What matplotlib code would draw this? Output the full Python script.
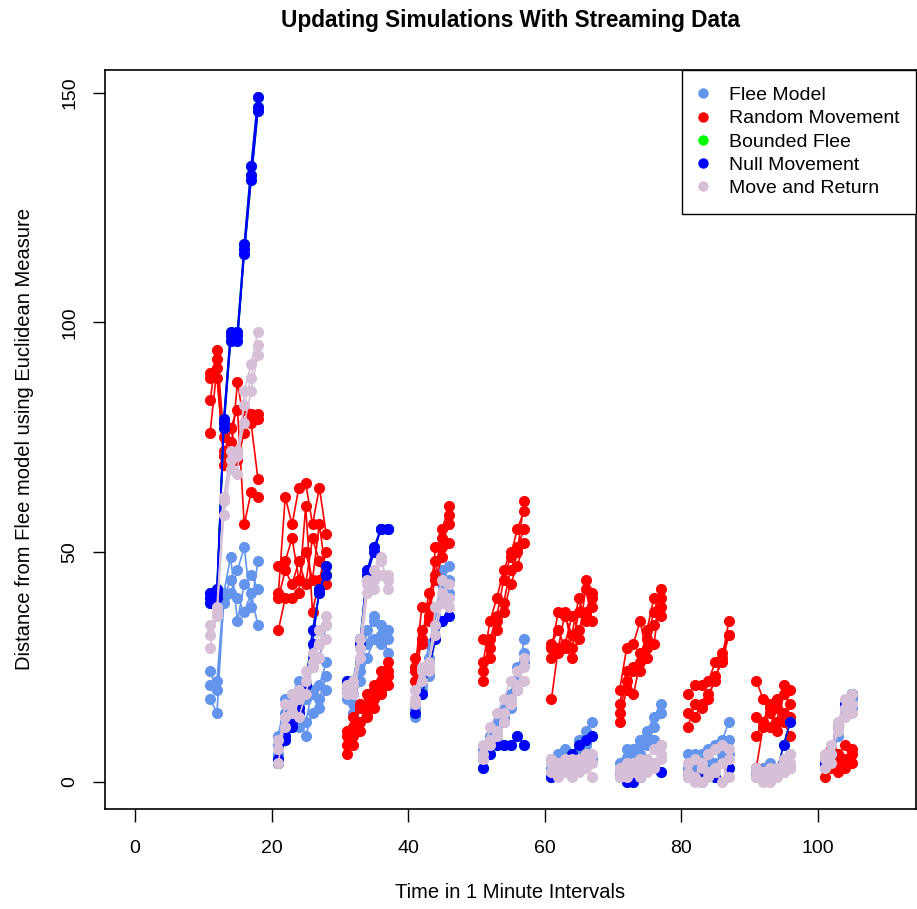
import numpy as np
import matplotlib
matplotlib.use("Agg")
import matplotlib.pyplot as plt
from matplotlib.lines import Line2D

plt.rcParams["font.family"] = ["Liberation Sans", "DejaVu Sans"]

############################################################
# Data: one entry per streaming window, each window holds runs
############################################################

window_start = [11, 21, 31, 41, 51, 61, 71, 81, 91, 101]

flee_model = [
    [[18, 15, 40, 44, 40, 37, 41, 34], [21, 22, 41, 49, 35, 43, 45, 42], [24, 20, 39, 41, 46, 51, 38, 48]],
    [[5, 11, 12, 14, 10, 15, 16, 20], [8, 15, 13, 17, 18, 19, 21, 26], [10, 18, 19, 22, 20, 25, 27, 34], [6, 12, 16, 12, 13, 20, 18, 23]],
    [[18, 17, 24, 33, 35, 34, 28], [20, 15, 26, 30, 36, 32, 31], [22, 19, 22, 27, 31, 30, 33]],
    [[14, 21, 23, 36, 46, 44], [16, 22, 27, 38, 40, 41], [17, 20, 30, 34, 43, 47]],
    [[5, 9, 11, 14, 18, 22, 31], [7, 8, 13, 16, 19, 25, 28], [6, 10, 9, 13, 16, 20, 26]],
    [[3, 6, 7, 5, 9, 11, 13], [1, 4, 2, 6, 5, 8, 10], [5, 2, 4, 3, 7, 6, 5]],
    [[2, 5, 7, 9, 11, 14, 17], [4, 7, 6, 8, 10, 12, 15], [1, 3, 5, 6, 8, 9, 8]],
    [[6, 6, 5, 7, 8, 9, 13], [3, 4, 6, 5, 7, 8, 6], [1, 2, 0, 3, 4, 6, 9]],
    [[3, 2, 4, 3, 5, 6], [1, 3, 1, 2, 2, 3]],
    [[4, 5, 10, 15, 16], [3, 7, 12, 17, 18]],
]

random_movement = [
    [[89, 92, 72, 70, 87, 78, 80, 79], [83, 94, 75, 77, 81, 56, 63, 62], [76, 90, 69, 74, 72, 81, 78, 66], [88, 88, 71, 77, 70, 76, 80, 80]],
    [[41, 62, 56, 64, 65, 56, 64, 54], [47, 48, 53, 44, 50, 44, 56, 45], [40, 46, 43, 48, 43, 53, 48, 43], [33, 40, 40, 41, 60, 37, 44, 50]],
    [[6, 10, 13, 17, 20, 24, 26], [8, 12, 16, 19, 18, 22, 24], [10, 8, 11, 15, 21, 20, 23], [11, 14, 17, 14, 16, 19, 21]],
    [[22, 31, 38, 48, 51, 58], [25, 33, 35, 45, 55, 60], [27, 30, 41, 44, 49, 52], [24, 38, 36, 51, 53, 56]],
    [[22, 29, 35, 39, 46, 50, 61], [24, 31, 36, 44, 49, 55, 59], [31, 27, 33, 37, 43, 47, 52], [26, 35, 40, 46, 50, 51, 55]],
    [[18, 29, 37, 29, 37, 44, 38], [27, 28, 30, 36, 33, 37, 41], [30, 33, 29, 27, 31, 42, 35], [29, 37, 36, 32, 40, 35, 40]],
    [[13, 20, 24, 28, 31, 37, 42], [17, 24, 19, 26, 33, 40, 36], [20, 29, 30, 35, 27, 30, 40], [15, 22, 25, 24, 29, 34, 38]],
    [[12, 17, 16, 19, 22, 28, 32], [19, 21, 21, 22, 26, 27, 35], [15, 14, 17, 18, 23, 26, 32]],
    [[22, 18, 16, 13, 21, 20], [14, 13, 17, 18, 15, 14], [10, 13, 12, 16, 13, 10], [3, 12, 15, 11, 19, 17]],
    [[1, 3, 6, 8, 4], [4, 6, 2, 5, 7], [5, 7, 4, 3, 6]],
]

null_movement = [
    [[40, 41, 77, 96, 97, 115, 131, 146], [41, 40, 79, 98, 98, 117, 134, 149], [39, 42, 78, 97, 96, 116, 132, 147]],
    [[4, 9, 12, 15, 21, 33, 41, 47], [5, 10, 13, 16, 19, 30, 42, 45]],
    [[22, 22, 31, 46, 51, 55, 55], [20, 21, 30, 45, 50, 55, 55]],
    [[15, 19, 24, 31, 35, 36]],
    [[3, 6, 8, 8, 8, 10, 8]],
    [[1, 2, 4, 6, 8, 9, 10]],
    [[2, 0, 0, 1, 3, 4, 2]],
    [[2, 1, 1, 2, 1, 4, 3]],
    [[2, 1, 1, 2, 8, 13]],
    [[4, 6, 12, 17, 19]],
]

# bounded flee sits exactly under the null movement runs
bounded_flee = null_movement

move_and_return = [
    [[29, 37, 58, 68, 72, 82, 88, 95], [32, 38, 61, 70, 67, 85, 91, 98], [34, 36, 62, 72, 71, 78, 85, 93]],
    [[4, 14, 17, 18, 24, 26, 30, 36], [7, 17, 15, 20, 22, 28, 33, 34], [9, 12, 19, 14, 19, 25, 27, 31]],
    [[20, 21, 29, 43, 44, 48, 44], [21, 19, 27, 41, 46, 49, 42], [19, 22, 31, 44, 42, 45, 45]],
    [[18, 22, 25, 34, 41, 43], [17, 25, 24, 38, 44, 40], [20, 24, 26, 32, 39, 38]],
    [[6, 12, 15, 18, 22, 24, 27], [8, 9, 11, 13, 17, 21, 25], [5, 8, 10, 15, 18, 20, 22]],
    [[2, 4, 3, 5, 2, 4, 6], [4, 1, 2, 3, 5, 3, 1], [5, 3, 5, 1, 3, 6, 4]],
    [[3, 2, 4, 3, 5, 7, 8], [1, 4, 2, 5, 3, 4, 6], [2, 1, 3, 1, 2, 3, 5]],
    [[4, 5, 3, 6, 7, 8, 7], [2, 1, 4, 2, 3, 4, 1], [1, 0, 0, 1, 2, 0, 5]],
    [[2, 1, 3, 2, 4, 6], [3, 0, 1, 3, 2, 4], [1, 2, 0, 1, 5, 3]],
    [[3, 6, 11, 16, 17], [5, 4, 13, 18, 19], [6, 8, 12, 14, 15]],
]

labels = ["Flee Model", "Random Movement", "Bounded Flee", "Null Movement", "Move and Return"]
colors = ["#6495ED", "#FF0000", "#00FF00", "#0000FF", "#D8BFD8"]
series = [flee_model, random_movement, bounded_flee, null_movement, move_and_return]

############################################################
# Plot
############################################################

fig = plt.figure(figsize=(9.17, 9.09), dpi=100)
ax = fig.add_axes([105 / 917, 1 - 809 / 909, (916 - 105) / 917, (809 - 70) / 909])

for data, color in zip(series, colors):
    for start, runs in zip(window_start, data):
        for run in runs:
            t = np.arange(start, start + len(run))
            ax.plot(t, run, "-o", color=color, lw=1.2, ms=8, mew=0)

ax.set_xlim(-4.4, 114.4)
ax.set_ylim(-5.96, 154.96)
ax.set_xticks([0, 20, 40, 60, 80, 100])
ax.set_yticks([0, 50, 100, 150])
ax.tick_params(direction="out", length=9, width=1, labelsize=14)
ax.tick_params(axis="x", pad=13)
ax.tick_params(axis="y", pad=10)
for lab in ax.get_yticklabels():
    lab.set_rotation(90)
    lab.set_va("center")
for s in ax.spines.values():
    s.set_linewidth(1.2)

ax.set_title("Updating Simulations With Streaming Data", fontsize=16.3, fontweight="bold", pad=31)
ax.set_xlabel("Time in 1 Minute Intervals", fontsize=14.5, labelpad=19)
ax.set_ylabel("Distance from Flee model using Euclidean Measure", fontsize=14.5, labelpad=20)

handles = [Line2D([], [], ls="none", marker="o", color=c, ms=7.5, mew=0) for c in colors]
leg = ax.legend(handles, labels, loc="upper right", bbox_to_anchor=(1, 1),
                borderaxespad=0, fancybox=False, framealpha=1, edgecolor="black",
                fontsize=14, handlelength=0.4, handletextpad=1.15, labelspacing=0.29,
                borderpad=0.85)
leg.get_frame().set_linewidth(1.0)

fig.savefig("out.png", dpi=100)
